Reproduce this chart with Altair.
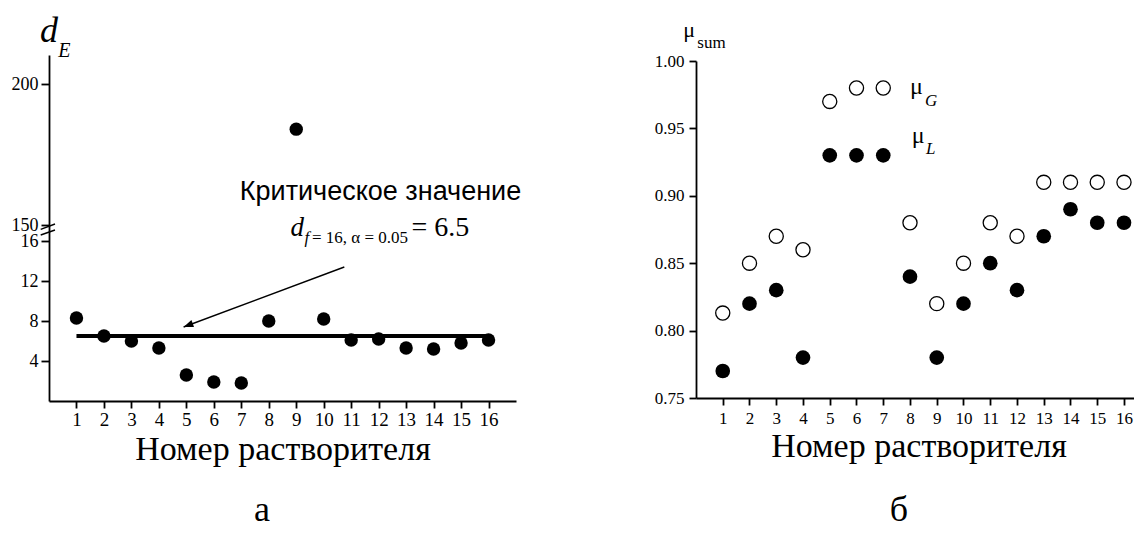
import math
import altair as alt
import pandas as pd

# ---------------- data ----------------
solvents = list(range(1, 17))
d_E = [8.3, 6.5, 6.0, 5.3, 2.6, 1.9, 1.8, 8.0, 184.0, 8.2, 6.1, 6.2, 5.3, 5.2, 5.8, 6.1]
mu_G = [0.813, 0.85, 0.87, 0.86, 0.97, 0.98, 0.98, 0.88, 0.82, 0.85, 0.88, 0.87, 0.91, 0.91, 0.91, 0.91]
mu_L = [0.77, 0.82, 0.83, 0.78, 0.93, 0.93, 0.93, 0.84, 0.78, 0.82, 0.85, 0.83, 0.87, 0.89, 0.88, 0.88]
d_crit = 6.5
crit_span = [1, 16]
left_y_ticks = [4, 8, 12, 16, 150, 200]
right_y_ticks = [0.75, 0.80, 0.85, 0.90, 0.95, 1.00]
arrow_from = [10.75, 13.4]
arrow_to = [4.9, 7.4]

SERIF = "Liberation Serif"
SANS = "Liberation Sans"

PAD_L, PAD_T = 41, 47
W, H = 1085, 346
PAD_B = 518 - PAD_T - H

left_df = pd.DataFrame({"n": solvents, "d": d_E})
right_df = pd.DataFrame({"n": solvents, "G": mu_G, "L": mu_L})
crit_df = pd.DataFrame({"x1": [crit_span[0]], "x2": [crit_span[1]], "y": [d_crit]})
arrow_df = pd.DataFrame({"x1": [arrow_from[0]], "y1": [arrow_from[1]],
                         "x2": [arrow_to[0]], "y2": [arrow_to[1]]})

# ---------------- scales (broken axis via piecewise linear scale) ----------------
LX = [0, 467]
lx = alt.Scale(domain=[0, 17], range=LX, nice=False, zero=False)
ly = alt.Scale(type="linear", domain=[0, 16, 150, 210.3], range=[346, 186, 170, 0],
               nice=False, zero=False)
RX0 = 647
rx = alt.Scale(domain=[0, 16.374], range=[RX0, W], nice=False, zero=False)
RY = [343, 6]
ry = alt.Scale(domain=[0.75, 1.0], range=RY, nice=False, zero=False)

common = dict(domainColor="black", tickColor="black", labelColor="black", labelFont=SERIF,
              grid=False, domainWidth=1.8, tickWidth=1.8, labelFlush=False,
              labelOverlap=False)
xtitle = dict(title="Номер растворителя", titleFont=SERIF, titleFontSize=34,
              titleFontWeight="normal", titleColor="black", titleBaseline="alphabetic",
              titleAlign="center", titleY=58)

left_x_axis = alt.Axis(orient="bottom", values=solvents, tickSize=7,
                       labelPadding=2, labelFontSize=19, titleX=233.5, **xtitle, **common)
left_y_axis = alt.Axis(orient="left", values=left_y_ticks, tickSize=8,
                       labelPadding=3, labelFontSize=18, title=None, **common)
right_x_axis = alt.Axis(orient="bottom", offset=RY[0] - H, values=solvents, tickSize=7,
                        labelPadding=5, labelFontSize=17, titleX=869.5, **xtitle, **common)
right_y_axis = alt.Axis(orient="left", offset=-RX0, values=right_y_ticks, format=".2f",
                        tickSize=7, labelPadding=5, labelFontSize=17, title=None, **common)

# ---------------- left panel ----------------
left_pts = alt.Chart(left_df).mark_circle(size=180, color="black", opacity=1).encode(
    x=alt.X("n:Q", scale=lx, axis=left_x_axis),
    y=alt.Y("d:Q", scale=ly, axis=left_y_axis),
)
crit_line = alt.Chart(crit_df).mark_rule(color="black", strokeWidth=4).encode(
    x=alt.X("x1:Q", scale=lx, axis=left_x_axis),
    x2="x2:Q",
    y=alt.Y("y:Q", scale=ly, axis=left_y_axis),
)
arrow_line = alt.Chart(arrow_df).mark_rule(color="black", strokeWidth=1.4).encode(
    x=alt.X("x1:Q", scale=lx, axis=left_x_axis),
    x2="x2:Q",
    y=alt.Y("y1:Q", scale=ly, axis=left_y_axis),
    y2="y2:Q",
)
px_x = (LX[1] - LX[0]) / 17.0
px_y = 10.0
ang = math.degrees(math.atan2((arrow_from[1] - arrow_to[1]) * px_y,
                              (arrow_to[0] - arrow_from[0]) * px_x))
arrow_head = alt.Chart(arrow_df).mark_point(
    shape="M0,0L-1,-0.38L-1,0.38Z", size=380, filled=True, color="black",
    opacity=1, angle=ang, strokeWidth=0,
).encode(
    x=alt.X("x2:Q", scale=lx, axis=left_x_axis),
    y=alt.Y("y2:Q", scale=ly, axis=left_y_axis),
)
left = alt.layer(left_pts, crit_line, arrow_line, arrow_head)

# ---------------- right panel ----------------
open_pts = alt.Chart(right_df).mark_point(shape="circle", size=200, filled=False,
                                          color="black", strokeWidth=1.3, opacity=1).encode(
    x=alt.X("n:Q", scale=rx, axis=right_x_axis),
    y=alt.Y("G:Q", scale=ry, axis=right_y_axis),
)
fill_pts = alt.Chart(right_df).mark_circle(size=215, color="black", opacity=1).encode(
    x=alt.X("n:Q", scale=rx, axis=right_x_axis),
    y=alt.Y("L:Q", scale=ry, axis=right_y_axis),
)
right = alt.layer(open_pts, fill_pts)


# ---------------- text annotations ----------------
def label(txt, x, y, size, font=SERIF, style="normal", align="left"):
    return alt.Chart(pd.DataFrame({"t": [txt]})).mark_text(
        font=font, fontSize=size, fontStyle=style, align=align,
        baseline="alphabetic", color="black",
    ).encode(x=alt.value(x), y=alt.value(y), text="t:N")


def brk(x1, y1, x2, y2):
    return alt.Chart(pd.DataFrame({"k": [0]})).mark_rule(color="black", strokeWidth=1.4).encode(
        x=alt.value(x1), y=alt.value(y1), x2=alt.value(x2), y2=alt.value(y2))


texts = [
    label("d", -9, -13.3, 36, style="italic"),
    label("E", 9.3, 1.7, 20, style="italic"),
    label("Критическое значение", 331.5, 145, 27, font=SANS, align="center"),
    label("d", 241.5, 181, 27, style="italic"),
    label("f", 255.5, 188.3, 17, style="italic"),
    label("= 16, α = 0.05", 263, 188.3, 17),
    label("= 6.5", 362.5, 181, 28),
    label("μ", 634.3, -18.4, 22),
    label("sum", 648.3, -6.7, 17),
    label("μ", 861, 39, 24),
    label("G", 876, 51, 17, style="italic"),
    label("μ", 862.7, 88.3, 24),
    label("L", 877, 99, 17, style="italic"),
    label("а", 213, 466, 36, align="center"),
    label("б", 850, 466, 36, align="center"),
    brk(-8.3, 174.3, 6, 169),
    brk(-8.3, 180, 6, 175),
]

chart = alt.layer(left, right, *texts).resolve_scale(
    x="independent", y="independent"
).properties(
    width=W, height=H, autosize=alt.AutoSizeParams(type="none"),
    padding={"left": PAD_L, "top": PAD_T, "right": 0, "bottom": PAD_B},
    background="white",
).configure_view(stroke=None)

chart.save("out.html", embed_options={"renderer": "svg", "actions": False})
